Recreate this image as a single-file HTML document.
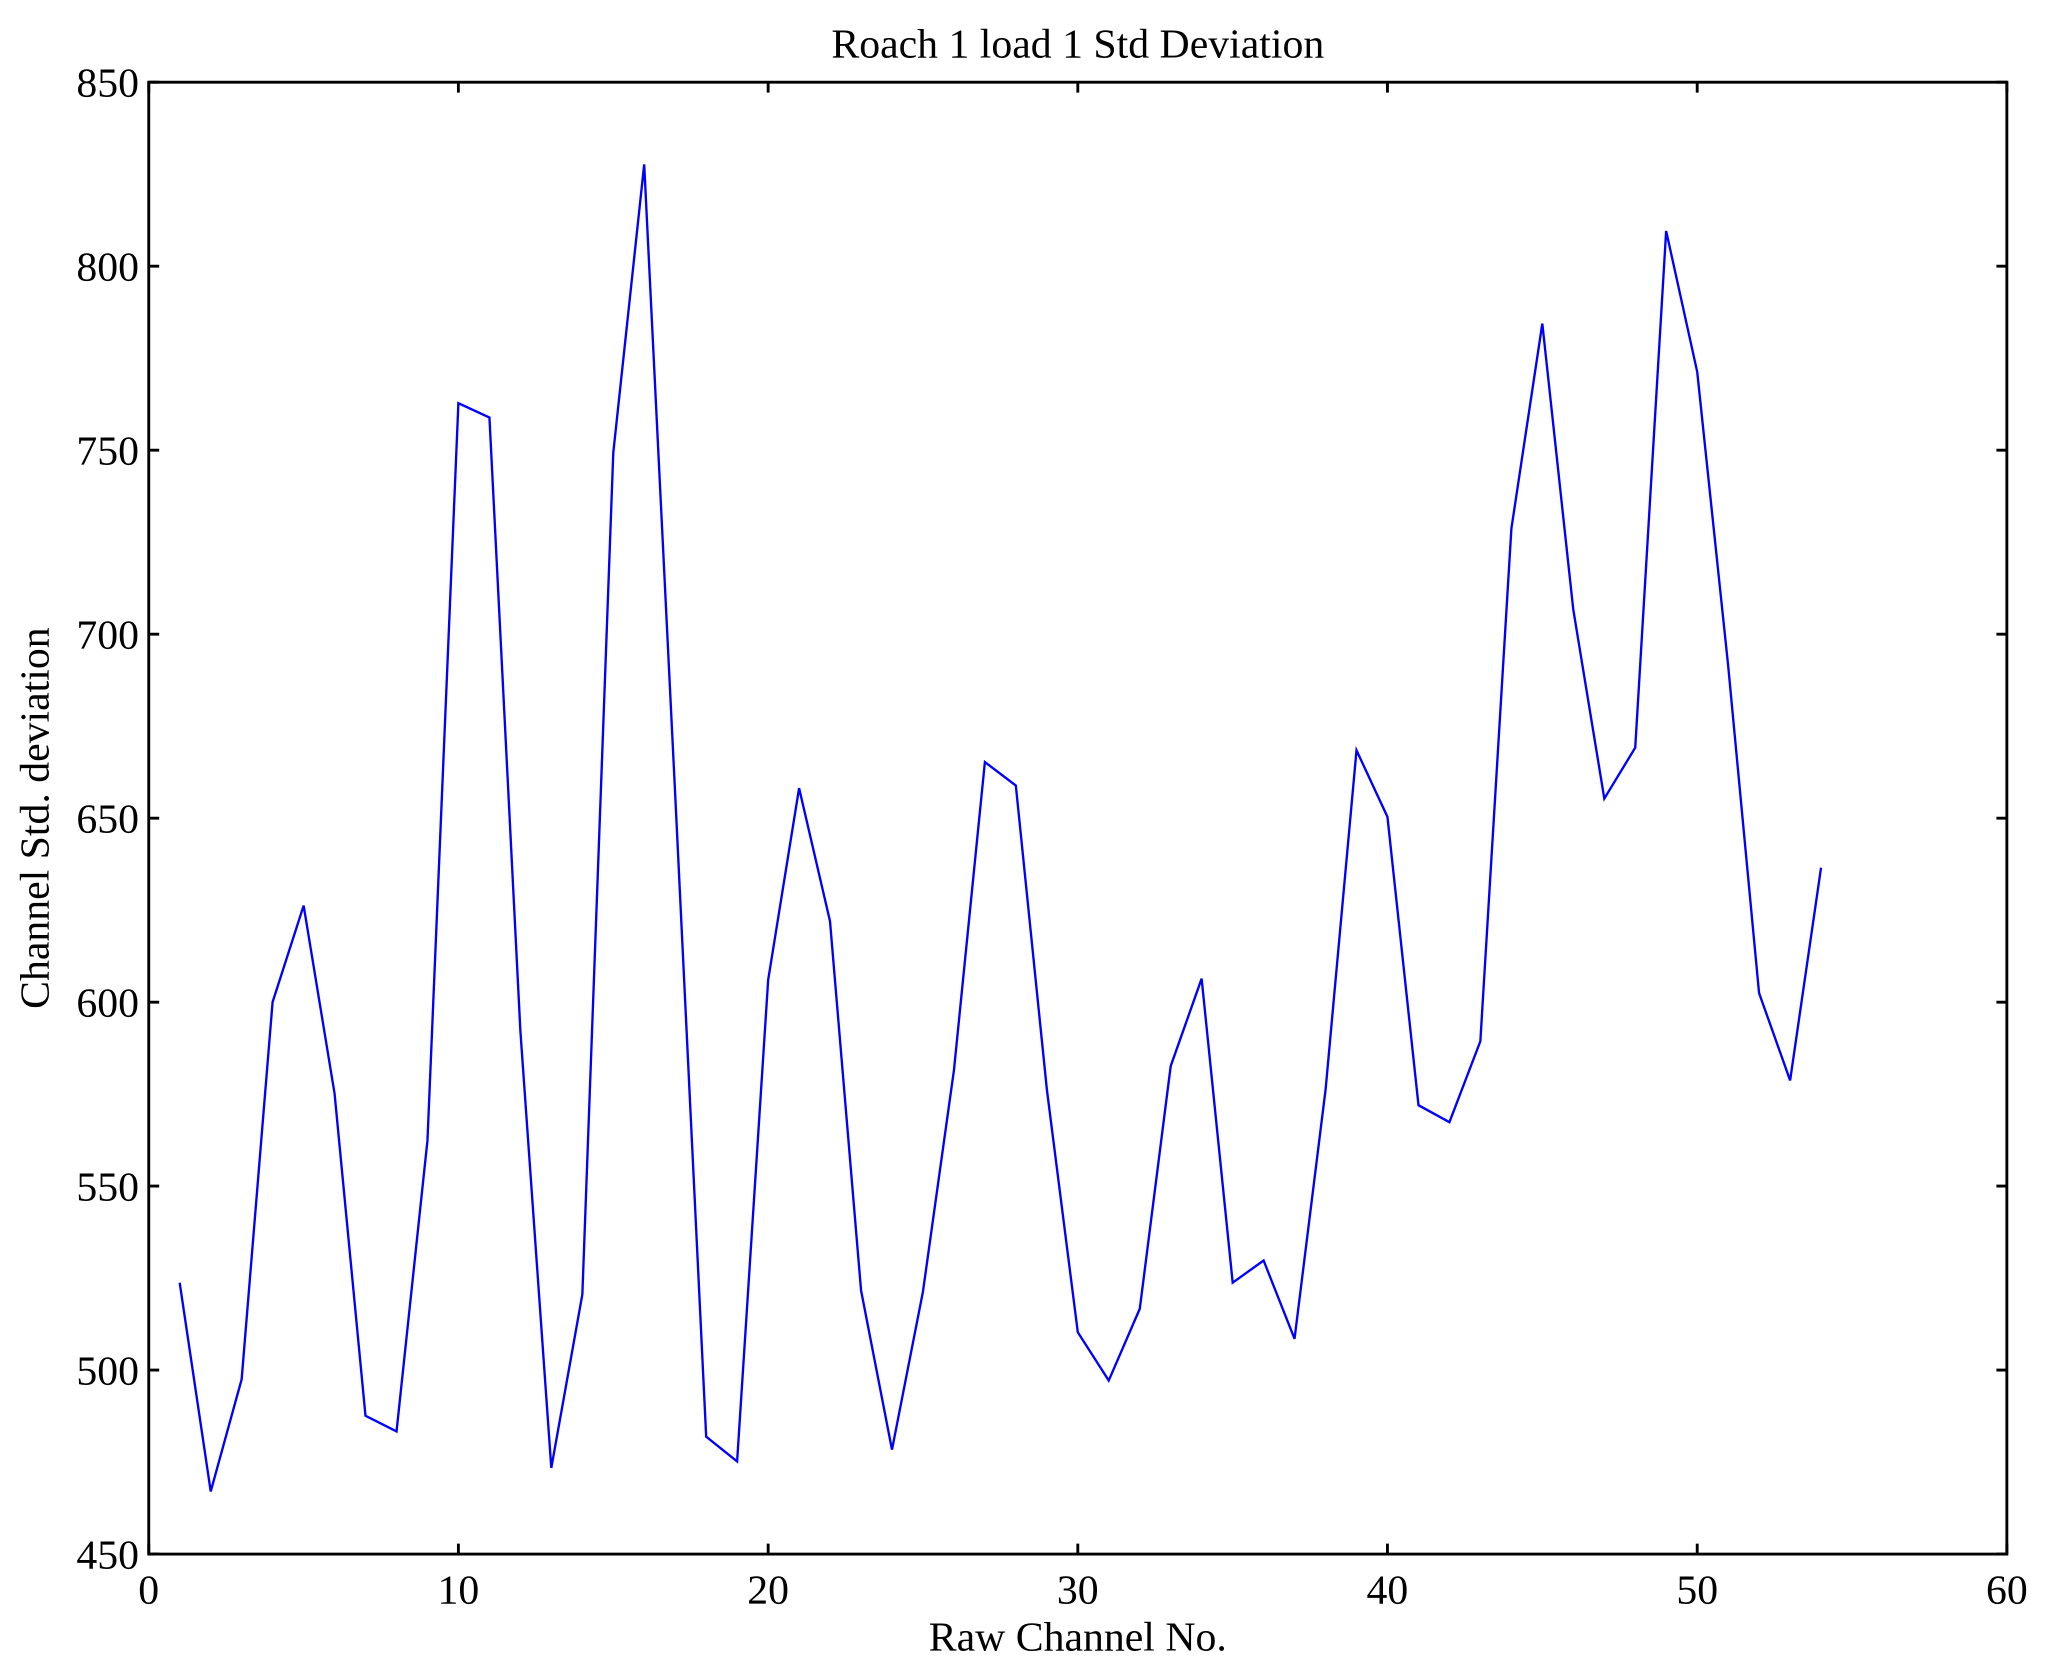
<!DOCTYPE html>
<html><head><style>html,body{margin:0;padding:0;background:#fff;}svg{display:block}</style></head>
<body>
<svg width="2046" height="1671" viewBox="0 0 1568 1280.6" preserveAspectRatio="none" xmlns="http://www.w3.org/2000/svg" font-family="Liberation Serif, serif">
<rect width="1568" height="1281" fill="#fff"/>
<text x="826" y="44" font-size="32" text-anchor="middle">Roach 1 load 1 Std Deviation</text>
<g stroke="#000" stroke-width="2.2" fill="none">
<rect x="114" y="63" width="1424" height="1128"/>
<path d="M114 1191v-8M114 63v8M351.3 1191v-8M351.3 63v8M588.7 1191v-8M588.7 63v8M826 1191v-8M826 63v8M1063.3 1191v-8M1063.3 63v8M1300.7 1191v-8M1300.7 63v8M1538 1191v-8M1538 63v8"/>
<path d="M114 63h8M1538 63h-8M114 204h8M1538 204h-8M114 345h8M1538 345h-8M114 486h8M1538 486h-8M114 627h8M1538 627h-8M114 768h8M1538 768h-8M114 909h8M1538 909h-8M114 1050h8M1538 1050h-8M114 1191h8M1538 1191h-8"/>
</g>
<g font-size="32" text-anchor="middle">
<text x="114" y="1229">0</text><text x="351.3" y="1229">10</text><text x="588.7" y="1229">20</text><text x="826" y="1229">30</text><text x="1063.3" y="1229">40</text><text x="1300.7" y="1229">50</text><text x="1538" y="1229">60</text>
</g>
<g font-size="32" text-anchor="end">
<text x="106.5" y="74">850</text><text x="106.5" y="215">800</text><text x="106.5" y="356">750</text><text x="106.5" y="497">700</text><text x="106.5" y="638">650</text><text x="106.5" y="779">600</text><text x="106.5" y="920">550</text><text x="106.5" y="1061">500</text><text x="106.5" y="1202">450</text>
</g>
<text x="826" y="1265" font-size="32" text-anchor="middle">Raw Channel No.</text>
<text transform="translate(37,627) rotate(-90)" font-size="32" text-anchor="middle">Channel Std. deviation</text>
<polyline fill="none" stroke="#0000ff" stroke-width="1.8" points="
137.7,983 161.5,1143 185.2,1057 208.9,768 232.7,694 256.4,838 280.1,1085 303.9,1097 327.6,874 351.3,309 375.1,320 398.8,790 422.5,1125 446.3,992 470,347 493.7,126 517.5,610 541.2,1101 564.9,1120 588.7,751 612.4,604 636.1,706 659.9,989 683.6,1111 707.3,990 731.1,820 754.8,584 778.5,602 802.3,835 826,1021 849.7,1058 873.5,1003 897.2,817 920.9,750 944.7,983 968.4,966 992.1,1026 1015.9,835 1039.6,575 1063.3,626 1087.1,847 1110.8,860 1134.5,798 1158.3,405 1182,248 1205.7,467 1229.5,612 1253.2,573 1276.9,177 1300.7,285 1324.4,510 1348.1,761 1371.9,828 1395.6,665"/>
</svg>
</body></html>
